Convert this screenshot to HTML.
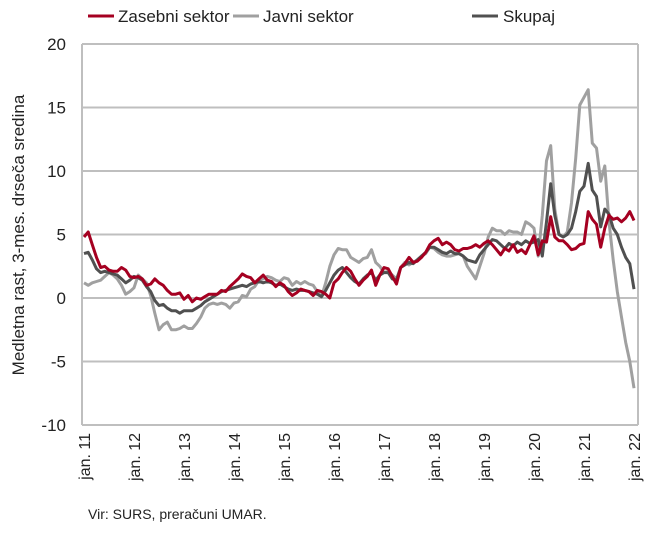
<!DOCTYPE html>
<html><head><meta charset="utf-8"><style>
body{margin:0;background:#fff;width:650px;height:532px;overflow:hidden;font-family:"Liberation Sans",sans-serif}
</style></head><body>
<svg id="chart" width="650" height="532" xmlns="http://www.w3.org/2000/svg" font-family="Liberation Sans, sans-serif">
<g id="grid"></g>
<g id="yticks" font-size="17" fill="#222" text-anchor="end"></g>
<g id="xticks" font-size="16" fill="#222"></g>
<g id="series"></g>
<text transform="translate(24,235) rotate(-90)" text-anchor="middle" font-size="17" fill="#222">Medletna rast, 3-mes. drseča sredina</text>
<g font-size="17" fill="#222">
<g><line x1="88" y1="16" x2="114" y2="16" stroke="#A50021" stroke-width="3"/><text x="118" y="22">Zasebni sektor</text></g>
<g><line x1="233" y1="16" x2="259" y2="16" stroke="#A0A0A0" stroke-width="3"/><text x="263" y="22">Javni sektor</text></g>
<g><line x1="472" y1="16" x2="498" y2="16" stroke="#505050" stroke-width="3"/><text x="503" y="22">Skupaj</text></g>
</g>
<text x="88" y="519" font-size="14" fill="#222">Vir: SURS, preračuni UMAR.</text>
</svg>
<script>
const yTicks=[20,15,10,5,0,-5,-10];
const xLabels=["jan. 11","jan. 12","jan. 13","jan. 14","jan. 15","jan. 16","jan. 17","jan. 18","jan. 19","jan. 20","jan. 21","jan. 22"];
const zasebni=[4.8,5.2,4.2,3.2,2.4,2.5,2.2,2.1,2.1,2.4,2.2,1.7,
1.6,1.7,1.5,1.0,1.1,1.5,1.2,1.0,0.6,0.3,0.3,0.4,
-0.1,0.2,-0.3,0.0,-0.1,0.1,0.3,0.3,0.3,0.6,0.5,0.9,
1.2,1.5,1.9,1.7,1.6,1.2,1.5,1.8,1.4,1.3,0.9,1.2,
1.0,0.5,0.2,0.4,0.7,0.6,0.5,0.2,0.6,0.5,0.3,0.0,
1.2,1.5,2.0,2.4,2.1,1.5,1.0,1.4,1.7,2.2,1.0,1.8,
2.4,2.3,1.7,1.1,2.4,2.7,3.2,2.8,2.9,3.2,3.6,4.2,
4.5,4.7,4.2,4.4,4.2,3.8,3.7,3.9,3.9,4.0,4.2,4.0,
4.3,4.5,4.2,3.8,3.4,3.9,3.7,4.2,3.6,3.8,3.5,4.2,
4.9,3.4,4.5,4.4,6.4,4.8,4.5,4.5,4.2,3.8,3.9,4.2,
4.3,6.8,6.2,5.8,4.0,5.5,6.5,6.2,6.3,6.0,6.3,6.8,
6.1];
const javni=[1.2,1.0,1.2,1.3,1.4,1.7,2.0,1.8,1.5,1.0,0.3,0.5,
0.8,1.8,1.5,1.2,0.2,-1.2,-2.5,-2.1,-1.9,-2.5,-2.5,-2.4,
-2.2,-2.4,-2.4,-2.0,-1.5,-0.8,-0.5,-0.4,-0.5,-0.4,-0.5,-0.8,
-0.4,-0.3,0.2,0.1,0.7,0.9,1.4,1.5,1.7,1.6,1.4,1.3,
1.6,1.5,1.0,1.3,1.1,1.3,1.1,1.0,0.5,0.1,1.2,2.5,
3.4,3.9,3.8,3.8,3.2,3.0,2.8,3.1,3.2,3.8,2.8,2.5,
2.0,2.1,1.8,1.5,2.4,2.8,2.6,2.8,3.0,3.3,3.5,4.0,
3.9,3.6,3.4,3.3,3.3,3.4,3.5,3.3,2.5,2.0,1.5,2.5,
3.5,4.8,5.5,5.3,5.3,5.0,5.3,5.2,5.2,5.0,6.0,5.8,
5.5,3.3,6.5,10.8,12.0,7.0,5.0,4.8,5.2,7.5,11.0,15.2,
15.8,16.4,12.2,11.8,9.2,10.4,6.0,3.0,0.5,-1.5,-3.5,-5.0,
-7.1];
const skupaj=[3.5,3.6,3.0,2.3,2.0,2.1,2.0,1.9,1.8,1.5,1.2,1.4,
1.7,1.6,1.4,0.9,0.5,-0.2,-0.6,-0.5,-0.8,-1.0,-1.0,-1.2,
-1.0,-1.0,-1.0,-0.8,-0.6,-0.3,-0.1,0.1,0.3,0.5,0.6,0.7,
0.8,0.9,1.0,0.9,1.1,1.2,1.3,1.2,1.3,1.2,1.0,1.1,
0.9,0.7,0.6,0.7,0.6,0.6,0.5,0.4,0.3,0.1,0.6,1.2,
1.8,2.2,2.4,2.0,1.6,1.3,1.1,1.5,1.8,2.0,1.4,1.8,
2.0,2.0,1.5,1.4,2.4,2.6,2.8,2.7,3.0,3.3,3.6,4.0,
4.0,3.8,3.6,3.5,3.7,3.5,3.5,3.3,3.0,2.9,2.8,3.4,
3.8,4.2,4.6,4.5,4.2,3.9,4.3,4.1,4.4,4.2,4.5,4.3,
4.4,4.6,3.3,6.0,9.0,6.5,5.0,4.8,5.0,5.5,6.8,8.4,
8.8,10.6,8.5,8.0,5.6,7.0,6.6,5.5,5.0,4.0,3.2,2.7,
0.7];
const NS="http://www.w3.org/2000/svg";
const X0=82,X1=638,Y20=44,Y_10=425;
function yS(v){return Y20+(20-v)*(Y_10-Y20)/30;}
function xS(i){return 84+i*(634-84)/132;}
function mk(t,a,p){const e=document.createElementNS(NS,t);for(const k in a)e.setAttribute(k,a[k]);p.appendChild(e);return e;}
const grid=document.getElementById('grid');
yTicks.forEach(v=>{
 const l=mk('line',{x1:X0,x2:X1,y1:yS(v),y2:yS(v),stroke:'#BFBFBF','stroke-width':2},grid);
 
 
 const t=mk('text',{x:66,y:yS(v)+6},document.getElementById('yticks'));
 t.textContent=v;
 
 
});
const ax=mk('line',{x1:X0,x2:X0,y1:Y20,y2:Y_10,stroke:'#BFBFBF','stroke-width':2},grid);


const ax2=mk('line',{x1:X1,x2:X1,y1:Y20,y2:Y_10,stroke:'#BFBFBF','stroke-width':2},grid);


xLabels.forEach((s,j)=>{
 const x=xS(j*12);
 const t=mk('text',{transform:`translate(${x+6},433) rotate(-90)`,'text-anchor':'end'},document.getElementById('xticks'));
 t.textContent=s;
 
 
});
const sg=document.getElementById('series');
[[javni,'#A0A0A0','javni-sektor-line'],[skupaj,'#505050','skupaj-line'],[zasebni,'#A50021','zasebni-sektor-line']].forEach(([d,c,n])=>{
 const p=mk('polyline',{points:d.map((v,i)=>xS(i).toFixed(1)+','+yS(v).toFixed(1)).join(' '),fill:'none',stroke:c,'stroke-width':3,'stroke-linejoin':'round'},sg);
 
 
});
</script>
</body></html>
